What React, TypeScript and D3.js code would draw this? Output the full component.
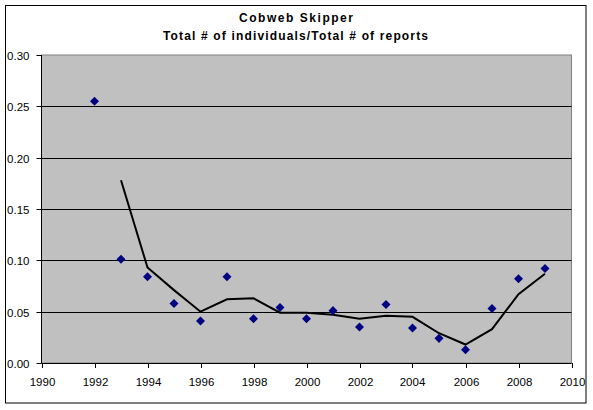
import * as d3 from "d3";

const WIDTH = 593;
const HEIGHT = 410;
const PLOT = { left: 41.5, right: 571.5, top: 55, bottom: 363 };

// observed ratios, one per year
const years = [
  1992, 1993, 1994, 1995, 1996, 1997, 1998, 1999, 2000, 2001, 2002, 2003,
  2004, 2005, 2006, 2007, 2008, 2009,
];
const ratios = [
  0.255, 0.101, 0.084, 0.058, 0.041, 0.084, 0.043, 0.054, 0.043, 0.051, 0.035,
  0.057, 0.034, 0.024, 0.013, 0.053, 0.082, 0.092,
];

// trend line (starts one year later)
const trendYears = [
  1993, 1994, 1995, 1996, 1997, 1998, 1999, 2000, 2001, 2002, 2003, 2004,
  2005, 2006, 2007, 2008, 2009,
];
const trendValues = [
  0.178, 0.093, 0.071, 0.05, 0.062, 0.063, 0.049, 0.049, 0.047, 0.043, 0.046,
  0.045, 0.029, 0.018, 0.033, 0.067, 0.087,
];

const xTicks = [1990, 1992, 1994, 1996, 1998, 2000, 2002, 2004, 2006, 2008, 2010];
const yTicks = [0, 0.05, 0.1, 0.15, 0.2, 0.25, 0.3];

const FONT = "'Liberation Sans', Arial, sans-serif";

export default function App() {
  const xScale = d3.scaleLinear().domain([1990, 2010]).range([PLOT.left, PLOT.right]);
  const yScale = d3.scaleLinear().domain([0, 0.3]).range([PLOT.bottom, PLOT.top]);

  const trend = trendYears.map((yr, i) => ({ x: yr, y: trendValues[i] }));
  const linePath = d3
    .line<{ x: number; y: number }>()
    .x((d) => xScale(d.x))
    .y((d) => yScale(d.y))(trend);

  const diamond = d3.symbol().type(d3.symbolDiamond2).size(52)();

  return (
    <svg
      width={WIDTH}
      height={HEIGHT}
      style={{ position: "absolute", left: 0, top: 0, background: "#fff" }}
      fontFamily={FONT}
    >
      {/* chart border */}
      <rect x={5.5} y={5.5} width={580.5} height={397.5} fill="#fff" stroke="#000" />

      {/* title */}
      <text
        x={296}
        y={22}
        textAnchor="middle"
        fontSize={12}
        fontWeight="bold"
        textLength={114}
        lengthAdjust="spacing"
      >
        Cobweb Skipper
      </text>
      <text
        x={295.5}
        y={40}
        textAnchor="middle"
        fontSize={12}
        fontWeight="bold"
        textLength={265}
        lengthAdjust="spacing"
      >
        Total # of individuals/Total # of reports
      </text>

      {/* plot area */}
      <rect
        x={PLOT.left}
        y={PLOT.top}
        width={PLOT.right - PLOT.left}
        height={PLOT.bottom - PLOT.top}
        fill="#c0c0c0"
        stroke="#808080"
      />

      {/* gridlines */}
      {yTicks
        .filter((t) => t > 0 && t < 0.3)
        .map((t) => (
          <line
            key={t}
            x1={PLOT.left}
            x2={PLOT.right}
            y1={Math.round(yScale(t)) + 0.5}
            y2={Math.round(yScale(t)) + 0.5}
            stroke="#000"
          />
        ))}

      {/* y axis */}
      <line x1={PLOT.left} x2={PLOT.left} y1={PLOT.top} y2={PLOT.bottom} stroke="#000" />
      {yTicks.map((t) => (
        <g key={t} transform={`translate(0,${Math.round(yScale(t)) + 0.5})`}>
          <line x1={PLOT.left - 5} x2={PLOT.left} stroke="#000" />
          <text x={29.5} dy="0.36em" textAnchor="end" fontSize={11.5} fill="#000">
            {d3.format(".2f")(t)}
          </text>
        </g>
      ))}

      {/* x axis */}
      <line x1={PLOT.left} x2={PLOT.right} y1={PLOT.bottom + 0.5} y2={PLOT.bottom + 0.5} stroke="#000" />
      {xTicks.map((t) => (
        <g key={t} transform={`translate(${Math.round(xScale(t)) + 0.5},0)`}>
          <line y1={PLOT.bottom} y2={PLOT.bottom + 5} stroke="#000" />
          <text y={386} textAnchor="middle" fontSize={11.5} fill="#000">
            {t}
          </text>
        </g>
      ))}

      {/* trend line */}
      <path d={linePath || ""} fill="none" stroke="#000" strokeWidth={2} />

      {/* points */}
      {years.map((yr, i) => (
        <path
          key={yr}
          d={diamond || ""}
          transform={`translate(${xScale(yr)},${yScale(ratios[i])})`}
          fill="#000080"
        />
      ))}
    </svg>
  );
}
